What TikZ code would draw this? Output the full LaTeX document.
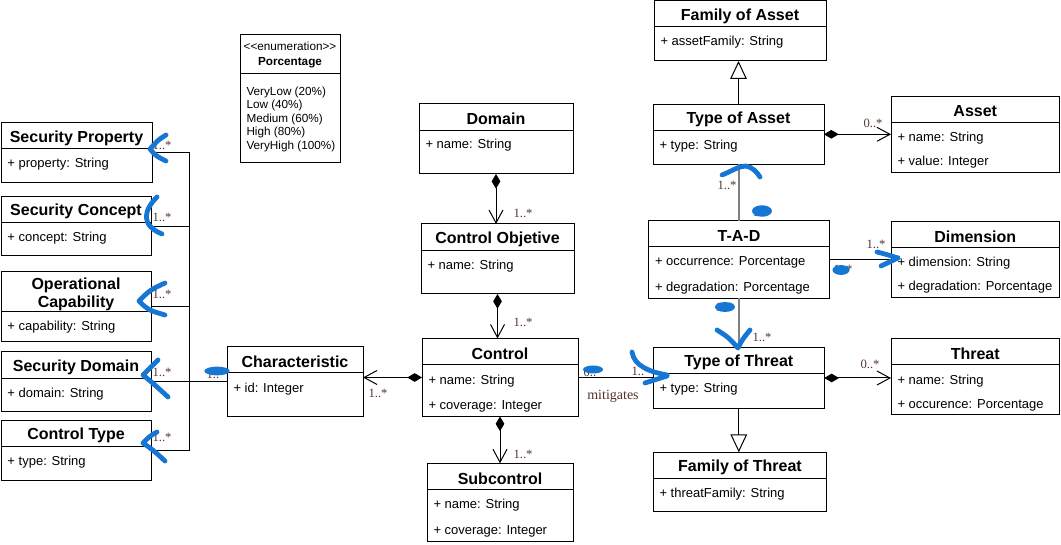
\documentclass[tikz,border=0pt]{standalone}
\usepackage{fontspec}
\setmainfont{Liberation Sans}
\newfontfamily\multserif{Liberation Serif}
\usetikzlibrary{%
  arrows.meta,%
  fit,% class boxes
  positioning%
}
\definecolor{markblue}{RGB}{22,118,212}
\definecolor{multbrown}{RGB}{85,50,45}
\definecolor{linkgray}{RGB}{128,128,128}

% box, header line and bold title of one class
\newcommand{\umlclass}[7]{%
  \node[classbox, fit={(#2,#3) (#4,#5)}] (#1) {};
  \draw (#2,#6) -- (#4,#6);
  \node[ctitle] (#1-t) at ({(#2+#4)/2},{(#3+#6)/2}) {#7};
}

\begin{document}
\begin{tikzpicture}[
  x=0.75pt, y=-0.75pt,
  line width=0.75pt,
  classbox/.style={draw, fill=white, inner sep=0pt, outer sep=0pt},
  ctitle/.style={font=\bfseries\fontsize{12}{13.5}\selectfont, align=center, inner sep=0pt, yshift=-1.5pt},
  cattr/.style={font=\fontsize{9.75}{12}\selectfont, anchor=west, inner sep=0pt, yshift=-1.2pt},
  enumtext/.style={font=\fontsize{8.8}{11.5}\selectfont, inner sep=0pt},
  mult/.style={font=\multserif\fontsize{9.5}{11}\selectfont, text=multbrown, inner sep=0pt},
  compo/.style={{Diamond[length=11pt,width=6.5pt]}-{Straight Barb[length=9.75pt,width=10.5pt]}},
  gen/.style={-{Triangle[open,length=13.5pt,width=12.5pt,fill=white]}},
  tadlink/.style={draw=linkgray, line width=1pt},
  scribble/.style={draw=markblue, line width=3.6pt, line cap=round, line join=round},
  blob/.style={fill=markblue},
]
\path[use as bounding box, fill=white] (0,0) rectangle (1061,545);

% left column
\umlclass{sp}{1}{123}{152}{183}{149}{Security Property}
\node[cattr] (sp-a) at (7,163) {+ property: String};
\umlclass{sc}{1}{197}{151}{256}{222.5}{Security Concept}
\node[cattr] (sc-a) at (7,237) {+ concept: String};
\umlclass{oc}{1}{272}{151}{341.5}{312}{Operational\\Capability}
\node[cattr] (oc-a) at (7,326) {+ capability: String};
\umlclass{sd}{1}{352}{151}{412}{379}{Security Domain}
\node[cattr] (sd-a) at (7,393) {+ domain: String};
\umlclass{ct}{1}{421}{151}{480}{446}{Control Type}
\node[cattr] (ct-a) at (7,461) {+ type: String};

% enumeration
\node[classbox, fit={(240,35) (340,163)}] (enum) {};
\draw (240,74) -- (340,74);
\node[enumtext, align=center] (enum-t) at (290,55) {<\kern0pt<enumeration>\kern0pt>\\\textbf{Porcentage}};
\foreach \v [count=\i from 0] in {VeryLow (20\%), Low (40\%), Medium (60\%), High (80\%), VeryHigh (100\%)} {
  \node[enumtext, anchor=west] (enum-v\i) at (246,92.5+13.4*\i) {\v};
}

% middle
\umlclass{char}{227}{347}{363}{417}{373}{Characteristic}
\node[cattr] (char-a) at (233,388) {+ id: Integer};
\umlclass{dom}{419}{104}{573}{174}{130.5}{Domain}
\node[cattr] (dom-a) at (425,144) {+ name: String};
\umlclass{cobj}{421}{224}{574}{294}{250.5}{Control Objetive}
\node[cattr] (cobj-a) at (427,265) {+ name: String};
\umlclass{ctrl}{422}{338.5}{578}{416.5}{364.3}{Control}
\node[cattr] (ctrl-a1) at (428,379.3) {+ name: String};
\node[cattr] (ctrl-a2) at (428,405) {+ coverage: Integer};
\umlclass{sub}{427}{463.3}{573}{541.7}{489.3}{Subcontrol}
\node[cattr] (sub-a1) at (433,503.3) {+ name: String};
\node[cattr] (sub-a2) at (433,529.3) {+ coverage: Integer};

% right
\umlclass{foa}{654}{1}{826}{61}{27}{Family of Asset}
\node[cattr] (foa-a) at (660,41) {+ assetFamily: String};
\umlclass{toa}{653}{104.3}{824}{164.3}{130.7}{Type of Asset}
\node[cattr] (toa-a) at (659,145) {+ type: String};
\umlclass{asset}{891}{96.5}{1059.5}{172.3}{122.5}{Asset}
\node[cattr] (asset-a1) at (897,136.7) {+ name: String};
\node[cattr] (asset-a2) at (897,160.7) {+ value: Integer};
\umlclass{tad}{648.5}{221}{829.5}{298.3}{246.7}{T-A-D}
\node[cattr] (tad-a1) at (654.5,261) {+ occurrence: Porcentage};
\node[cattr] (tad-a2) at (654.5,286.7) {+ degradation: Porcentage};
\umlclass{dim}{891}{222}{1059.5}{297.3}{247.3}{Dimension}
\node[cattr] (dim-a1) at (897,261.7) {+ dimension: String};
\node[cattr] (dim-a2) at (897,285.7) {+ degradation: Porcentage};
\umlclass{tot}{653.3}{347.3}{824.3}{408.7}{373.3}{Type of Threat}
\node[cattr] (tot-a) at (659,387.7) {+ type: String};
\umlclass{thr}{891}{338.5}{1059.5}{415}{365}{Threat}
\node[cattr] (thr-a1) at (897,379.3) {+ name: String};
\node[cattr] (thr-a2) at (897,404) {+ occurence: Porcentage};
\umlclass{fot}{653.3}{452.3}{826.7}{511.7}{478.3}{Family of Threat}
\node[cattr] (fot-a) at (659,492.7) {+ threatFamily: String};

% links
\draw[gen] (toa.north) -- (toa.north |- foa.south);
\draw[gen] (tot.south) -- (tot.south |- fot.north);
\draw[compo] (toa.east) -- (toa.east -| asset.west);
\draw[compo] (tot.east) -- (tot.east -| thr.west);
\draw[compo] (dom.south) -- (dom.south |- cobj.north);
\draw[compo] (cobj.south) -- (cobj.south |- ctrl.north);
\draw[compo] (ctrl.south) -- (ctrl.south |- sub.north);
\draw[compo] (ctrl.west) -- (ctrl.west -| char.east);
\draw[tadlink] (tad.north) -- (tad.north |- toa.south);
\draw[tadlink] (tad.south) -- (tad.south |- tot.north);
\draw (tad.east) -- (tad.east -| dim.west);
\draw (ctrl.east) -- (ctrl.east -| tot.west);
\coordinate (trunk) at (189,0);
\draw (char.west) -- (char.west -| sd.east);
\foreach \c in {sp,sc,oc,ct} {
  \draw (char.west -| trunk) |- (\c.east);
}

% multiplicities
\node[mult] (m-sp) at (162,145) {1..*};
\node[mult] (m-sc) at (162,217) {1..*};
\node[mult] (m-oc) at (162,294) {1..*};
\node[mult] (m-sd) at (162,372) {1..*};
\node[mult] (m-ct) at (162,437) {1..*};
\node[mult] (m-chl) at (216,374) {1..*};
\node[mult] (m-chr) at (378,393) {1..*};
\node[mult] (m-cobj) at (523,213) {1..*};
\node[mult] (m-ctrl) at (523,322) {1..*};
\node[mult] (m-sub) at (523,454) {1..*};
\node[mult] (m-asset) at (873,123) {0..*};
\node[mult] (m-thr) at (870,364) {0..*};
\node[mult] (m-mit1) at (593,372) {0..*};
\node[mult] (m-mit2) at (641,371) {1..*};
\node[mult, font=\multserif\fontsize{10.5}{12}\selectfont] (mit) at (613,396) {mitigates};
\node[mult] (m-toa) at (727,185) {1..*};
\node[mult] (m-tad1) at (762,212) {1..*};
\node[mult] (m-dim) at (876,244) {1..*};
\node[mult] (m-tad2) at (843,269) {1..*};
\node[mult] (m-tad3) at (725,307) {1..*};
\node[mult] (m-tot) at (762,337) {1..*};

% blue marks
\fill[blob] (217,371) ellipse [x radius=9.5pt, y radius=3.3pt];
\fill[blob] (593,369.5) ellipse [x radius=7.5pt, y radius=3pt];
\fill[blob] (762,211) ellipse [x radius=7.5pt, y radius=4.3pt];
\fill[blob] (841,270) ellipse [x radius=6.4pt, y radius=3.7pt];
\fill[blob] (725,307) ellipse [x radius=7.5pt, y radius=3.7pt];
\draw[scribble] (166,135) .. controls (158,140) .. (150,149) .. controls (156,156) .. (166,161);
\draw[scribble] (157,197) .. controls (144,210) and (140,225) .. (162,234);
\draw[scribble] (165,283) .. controls (150,290) .. (139,301) .. controls (148,310) .. (165,315);
\draw[scribble] (158,360) .. controls (150,368) .. (143,375) .. controls (155,385) .. (168,397);
\draw[scribble] (157,432) .. controls (150,436) .. (143,443) .. controls (153,450) .. (165,461);
\draw[scribble] (722,175) .. controls (732,171) and (739,166) .. (746,166) .. controls (752,167) and (757,172) .. (760,177);
\draw[scribble] (717,330) .. controls (728,337) .. (738,348) .. controls (742,340) .. (750,330);
\draw[scribble] (632,352) .. controls (634,366) and (650,372) .. (667,375);
\draw[scribble] (645,383) -- (667,376);
\draw[scribble] (877,252) .. controls (885,254) .. (898,258);
\draw[scribble] (881,266) -- (898,258);

\end{tikzpicture}
\end{document}
